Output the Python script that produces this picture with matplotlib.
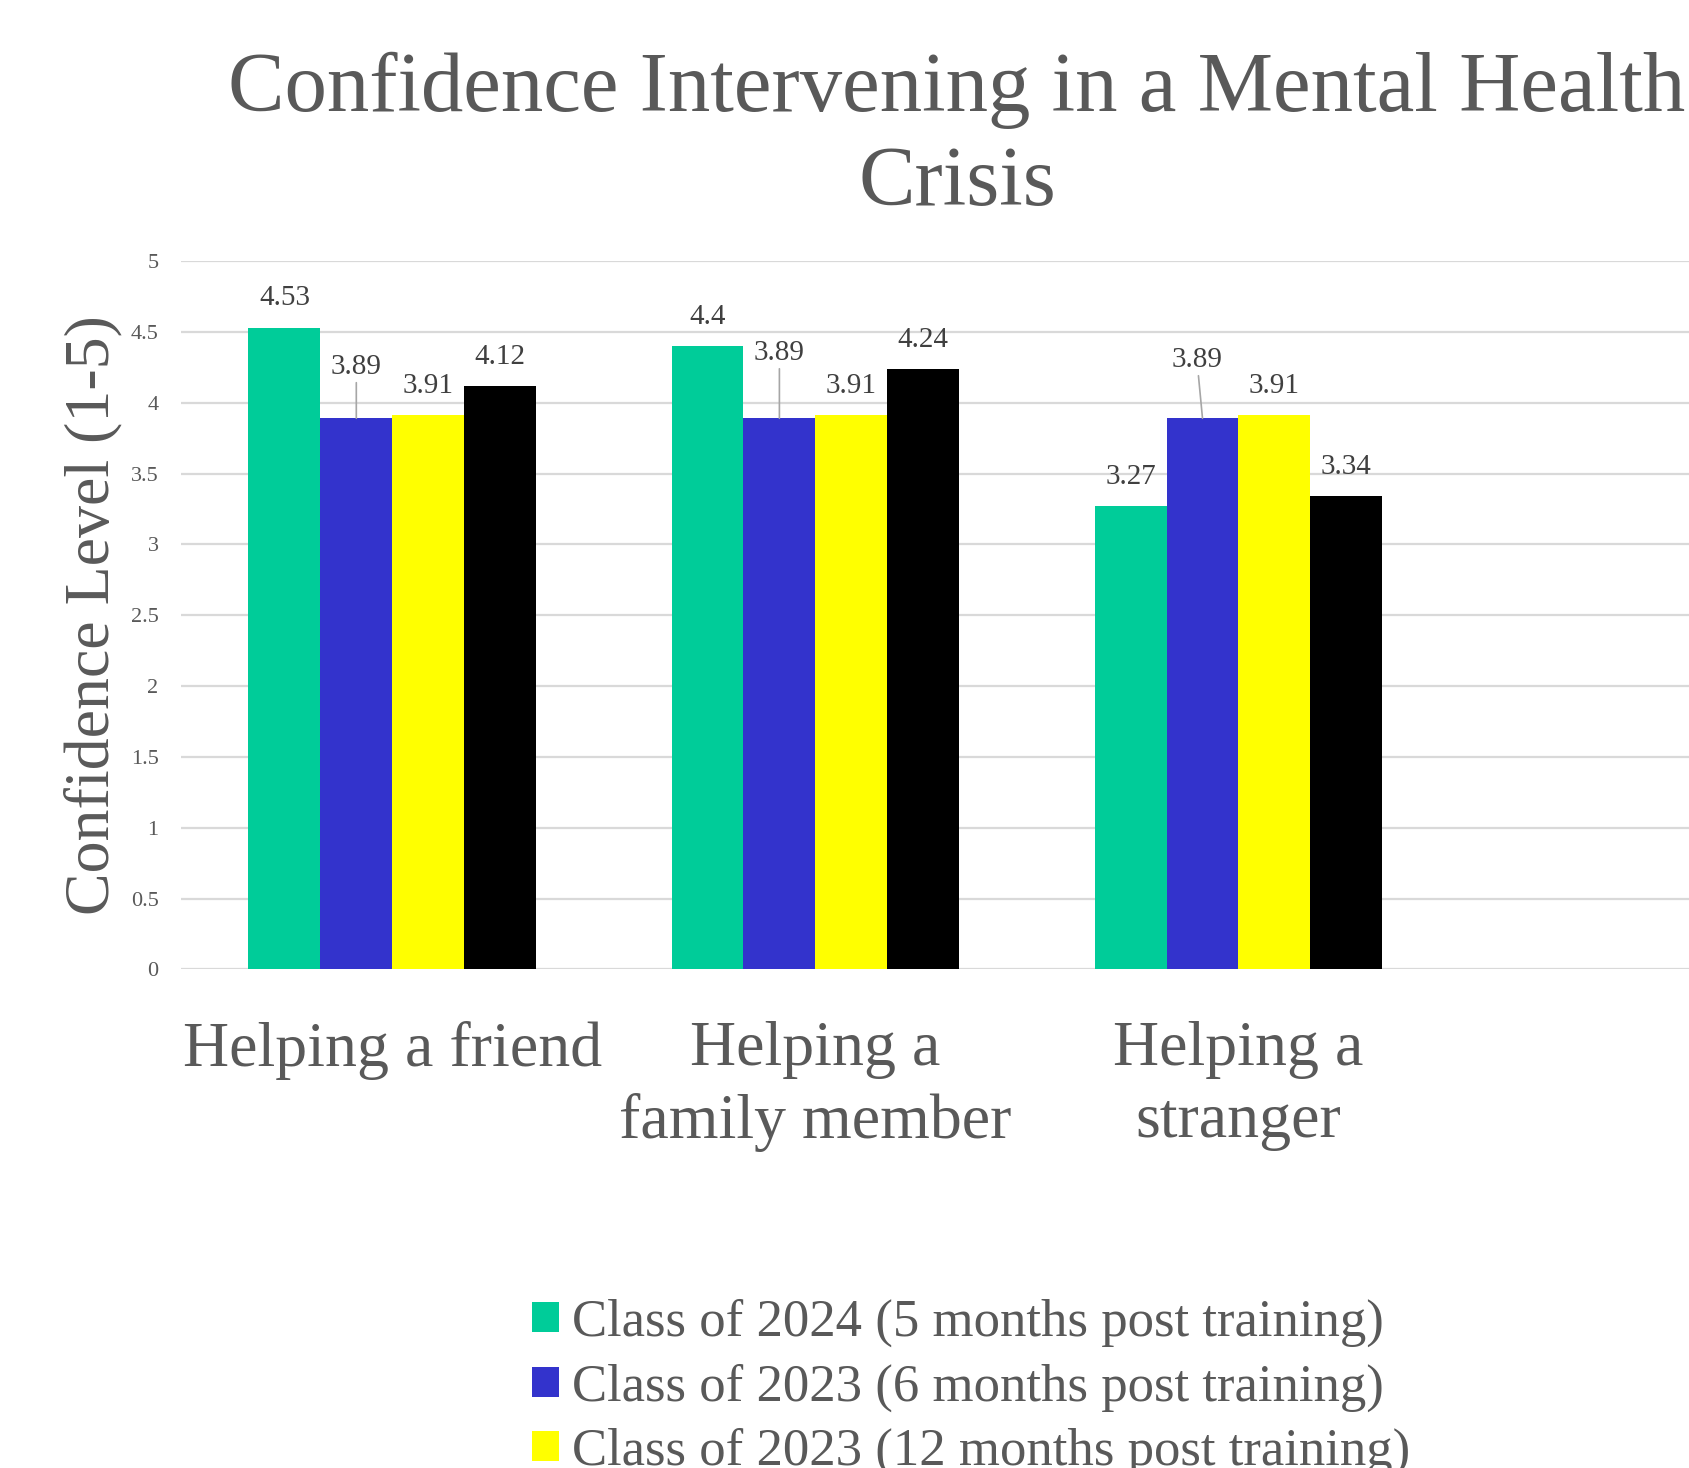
import matplotlib.pyplot as plt
import numpy as np
from matplotlib.ticker import FuncFormatter, MultipleLocator

plt.rcParams['font.family'] = ['Liberation Serif', 'DejaVu Serif']

# data
categories = ['Helping a friend', 'Helping a\nfamily member', 'Helping a\nstranger', '']
class2024_5m = [4.53, 4.4, 3.27]
class2023_6m = [3.89, 3.89, 3.89]
class2023_12m = [3.91, 3.91, 3.91]
class_black = [4.12, 4.24, 3.34]

series = [class2024_5m, class2023_6m, class2023_12m, class_black]
names = ['Class of 2024 (5 months post training)',
         'Class of 2023 (6 months post training)',
         'Class of 2023 (12 months post training)',
         None]
colors = ['#00CC99', '#3333CC', '#FFFF00', '#000000']

grey = '#595959'

fig = plt.figure(figsize=(16.89, 14.68), dpi=100)
# axes runs past the right edge, like the cropped original
ax = fig.add_axes([0.107, 0.3396, 1.002, 0.4826])

x = np.arange(len(class2024_5m))
w = 0.17
offs = [-1.5, -0.5, 0.5, 1.5]
bars = []
for s, n, c, o in zip(series, names, colors, offs):
    b = ax.bar(x + o * w, s, w, color=c, label=n, zorder=3)
    bars.append(b)

# value labels (blue ones were dragged up with leader lines)
blue_off = [(0, 37), (0, 47), (-4, 42)]
for i, b in enumerate(bars):
    for j, r in enumerate(b):
        v = r.get_height()
        xc = r.get_x() + r.get_width() / 2
        if i == 1:
            dx, dy = blue_off[j]
            ax.annotate(f'{v:g}', (xc, v), xytext=(dx, dy), textcoords='offset points',
                        ha='center', va='center', fontsize=21, color='#404040',
                        arrowprops=dict(arrowstyle='-', color='#A6A6A6', lw=1.2,
                                        shrinkA=0, shrinkB=0))
        else:
            ax.annotate(f'{v:g}', (xc, v), xytext=(0, 21), textcoords='offset points',
                        ha='center', va='center', fontsize=21, color='#404040')

ax.set_xlim(-0.5, 3.5)
ax.set_ylim(0, 5)
ax.yaxis.set_major_locator(MultipleLocator(0.5))
ax.yaxis.set_major_formatter(FuncFormatter(lambda v, p: f'{v:g}'))
ax.grid(axis='y', color='#D9D9D9', lw=1.6, zorder=0)
for sp in ax.spines.values():
    sp.set_visible(False)

ax.set_xticks(np.arange(len(categories)))
ax.set_xticklabels(categories, fontsize=46, color=grey, linespacing=1.32)
ax.tick_params(axis='x', length=0, pad=37)
ax.tick_params(axis='y', length=0, pad=16, labelsize=16, labelcolor=grey)

ax.set_ylabel('Confidence Level (1-5)', fontsize=46, color=grey)
ax.yaxis.label.set_va('center')
ax.yaxis.set_label_coords(-0.052, 0.5)

fig.text(0.5666, 0.965, 'Confidence Intervening in a Mental Health\nCrisis',
         ha='center', va='top', fontsize=61, color=grey, linespacing=1.3)

h, l = ax.get_legend_handles_labels()
fig.legend(h, l, loc='upper left', bbox_to_anchor=(0.2996, 0.133), frameon=False,
           fontsize=38, labelcolor=grey, borderpad=0, handlelength=0.5,
           handleheight=0.5, handletextpad=0.25, labelspacing=0.3)

fig.savefig('out.png', dpi=100)
